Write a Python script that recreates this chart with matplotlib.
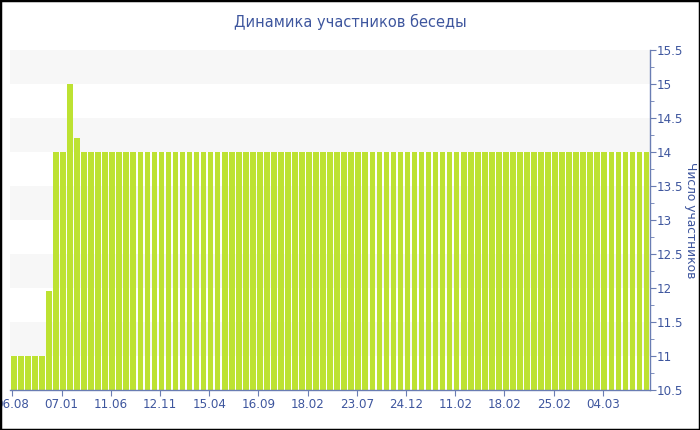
import matplotlib.pyplot as plt
from matplotlib.patches import Rectangle
import numpy as np

# participants per day
members = [11, 11, 11, 11, 11, 11.95, 14, 14, 15, 14.2] + [14] * 81
tick_labels = ["06.08", "07.01", "11.06", "12.11", "15.04", "16.09", "18.02",
               "23.07", "24.12", "11.02", "18.02", "25.02", "04.03"]
tick_step = 7

text_color = "#3e569e"
axis_color = "#6a7db3"
bar_color = "#bde232"

fig = plt.figure(figsize=(7, 4.3), dpi=100)
ax = fig.add_axes([10 / 700, 40 / 430, 640 / 700, 340 / 430])

x = np.arange(len(members))

# alternating bands
for lo in np.arange(11, 15.5, 1.0):
    ax.axhspan(lo, lo + 0.5, color="#f7f7f7", zorder=0, lw=0)

ax.bar(x, np.array(members) - 10.5, bottom=10.5, width=0.8,
       color=bar_color, edgecolor="none", zorder=2)

ax.set_xlim(-0.54, len(members) - 0.5)
ax.set_ylim(10.5, 15.5)

ax.set_xticks(x[::tick_step] - 0.2)
ax.set_xticklabels(tick_labels)
ax.set_yticks(np.arange(10.5, 15.51, 0.5))
ax.set_yticklabels(["%g" % v for v in np.arange(10.5, 15.51, 0.5)])
ax.set_yticks(np.arange(10.75, 15.5, 0.5), minor=True)

ax.yaxis.tick_right()
ax.yaxis.set_label_position("right")
for s in ["top", "left"]:
    ax.spines[s].set_visible(False)
for s in ["bottom", "right"]:
    ax.spines[s].set_color(axis_color)
    ax.spines[s].set_linewidth(1)

ax.tick_params(axis="x", colors=axis_color, labelcolor=text_color,
               labelsize=8.6, length=4, pad=2)
ax.tick_params(axis="y", which="major", colors=axis_color, labelcolor=text_color,
               labelsize=8.6, length=4, pad=1)
ax.tick_params(axis="y", which="minor", colors=axis_color, length=3)

ax.set_ylabel("Число участников", color=text_color, fontsize=8.8,
              rotation=270, labelpad=10)
fig.suptitle("Динамика участников беседы", color=text_color, fontsize=10.5,
             y=1 - 22 / 430, va="center")

# outer frame
fig.patches.append(Rectangle((0, 0), 1, 1, transform=fig.transFigure,
                             fill=False, edgecolor="black", lw=2.5))

fig.savefig("out.png", dpi=100)
